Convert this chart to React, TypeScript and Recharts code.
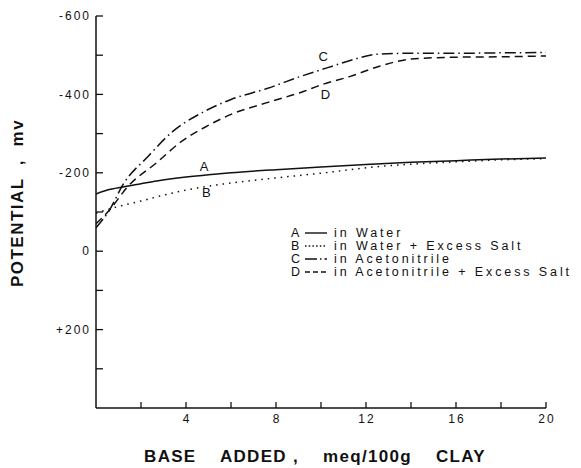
import React from 'react';
import { LineChart, Line, XAxis, YAxis, Legend, ReferenceDot } from 'recharts';

// Base added (meq/100g clay) and potential (mV) for each curve
const xA = [0, 0.5, 1.2, 2, 2.7, 4, 5, 6, 8, 10, 12.2, 14, 16, 18, 20];
const yA = [-146, -156, -164, -172, -179, -189, -195, -200, -208, -215, -222, -227, -231, -235, -238];
const xB = [0, 0.5, 1, 2, 3, 4, 5, 6, 8, 10, 12.2, 14, 16, 18, 20];
const yB = [-97, -106, -114, -128, -143, -156, -166, -174, -187, -199, -214, -222, -228, -233, -236];
const xC = [0, 0.6, 1.2, 2.3, 3.4, 4.8, 6, 7.6, 9.1, 10.5, 11.5, 12.6, 14, 16, 18, 20];
const yC = [-60, -105, -170, -241, -305, -356, -387, -415, -446, -472, -490, -503, -505, -505, -506, -507];
const xD = [0, 0.6, 1.4, 2.7, 3.8, 4.8, 6, 7.6, 9.1, 10.1, 11.3, 12.6, 14, 16, 18, 20];
const yD = [-70, -105, -164, -226, -280, -315, -349, -379, -405, -426, -446, -472, -490, -495, -496, -498];

const xTicks = [0, 2, 4, 6, 8, 10, 12, 14, 16, 18, 20];
const xTickLabels: Record<string, string> = { '4': '4', '8': '8', '12': '12', '16': '16', '20': '20' };
const yTicks = [-600, -500, -400, -300, -200, -100, 0, 100, 200, 300];
const yTickLabels: Record<string, string> = { '-600': '-600', '-400': '-400', '-200': '-200', '0': '0', '200': '+200' };

const curveLetters = ['A', 'B', 'C', 'D'];
const curveNames = ['in Water', 'in Water + Excess Salt', 'in Acetonitrile', 'in Acetonitrile + Excess Salt'];
const curveDashes = ['', '1.5 5', '11 4 1.5 4', '8 5'];
const legendDashes = ['', '1.5 2.2', '12 3 1.5 3', '5 3'];
const labelX = [4.8, 4.9, 10.1, 10.2];
const labelY = [-216, -150, -498, -400];

const INK = '#111';
const FONT = '"Liberation Sans", Arial, Helvetica, sans-serif';

const toPts = (xs: number[], ys: number[]) => xs.map((x, i) => ({ x, y: ys[i] }));
const series = [toPts(xA, yA), toPts(xB, yB), toPts(xC, yC), toPts(xD, yD)];

const YTick = (props: any) => {
  const { x, y, payload } = props;
  const v = payload.value;
  const lab = yTickLabels[String(v)] ?? '';
  return (
    <g>
      {v !== 400 && <line x1={x} x2={x + 7} y1={y} y2={y} stroke={INK} strokeWidth={1.3} />}
      {lab && (
        <text x={x - 5} y={y} dy="0.35em" textAnchor="end" fontSize={12} fill={INK}
          style={{ letterSpacing: '2px', fontFamily: FONT }}>
          {lab}
        </text>
      )}
    </g>
  );
};

const XTick = (props: any) => {
  const { x, y, payload } = props;
  const v = payload.value;
  const lab = xTickLabels[String(v)] ?? '';
  return (
    <g>
      {v !== 0 && <line x1={x} x2={x} y1={y} y2={y - 6} stroke={INK} strokeWidth={1.3} />}
      {lab && (
        <text x={x + 1} y={y + 11} dy="0.35em" textAnchor="middle" fontSize={12} fill={INK}
          style={{ letterSpacing: '2px', fontFamily: FONT }}>
          {lab}
        </text>
      )}
    </g>
  );
};

const LegendBox = () => (
  <div style={{ fontFamily: FONT, fontSize: 12.5, color: INK, overflow: 'visible' }}>
    {curveLetters.map((L, i) => (
      <div key={L} style={{ display: 'flex', alignItems: 'center', height: 13, whiteSpace: 'nowrap' }}>
        <span style={{ display: 'inline-block', width: 14, flexShrink: 0 }}>{L}</span>
        <svg width={22} height={6} style={{ display: 'block', flexShrink: 0 }}>
          <line x1={0} x2={22} y1={3} y2={3} stroke={INK} strokeWidth={1.4}
            strokeDasharray={legendDashes[i] || undefined} />
        </svg>
        <span style={{ marginLeft: 7, letterSpacing: '2.9px', flexShrink: 0 }}>{curveNames[i]}</span>
      </div>
    ))}
  </div>
);

const YTitle = (props: any) => {
  const vb = props.viewBox;
  const cx = vb.x + 9;
  const cy = vb.y + vb.height / 2 - 9;
  return (
    <text x={cx} y={cy} transform={`rotate(-90, ${cx}, ${cy})`} textAnchor="middle" dy="0.35em"
      fontSize={17} fontWeight="bold" fill={INK} style={{ letterSpacing: '1.5px', whiteSpace: 'pre', fontFamily: FONT }}>
      {'POTENTIAL  ,  mv'}
    </text>
  );
};

const XTitle = (props: any) => {
  const vb = props.viewBox;
  const cx = vb.x + vb.width / 2 - 6;
  return (
    <text x={cx} y={vb.y + 54} textAnchor="middle" fontSize={17} fontWeight="bold" fill={INK}
      style={{ letterSpacing: '1.3px', whiteSpace: 'pre', fontFamily: FONT }}>
      {'BASE    ADDED ,    meq/100g    CLAY'}
    </text>
  );
};

export default function App() {
  return (
    <LineChart width={573} height={460} margin={{ top: 8, right: 35, bottom: 30, left: 0 }}>
      <XAxis dataKey="x" type="number" domain={[0, 20]} ticks={xTicks} interval={0}
        allowDataOverflow height={30} tickSize={0} tickMargin={0} tickLine={false}
        axisLine={{ stroke: INK, strokeWidth: 1.5 }} tick={<XTick />} label={<XTitle />} />
      <YAxis type="number" domain={[-600, 400]} reversed ticks={yTicks} interval={0}
        allowDataOverflow width={88} tickSize={0} tickMargin={0} tickLine={false}
        axisLine={{ stroke: INK, strokeWidth: 1.5 }} tick={<YTick />} label={<YTitle />} />
      {series.map((d, i) => (
        <Line key={curveLetters[i]} data={d} dataKey="y" name={curveNames[i]} type="monotone"
          stroke={INK} strokeWidth={1.5} strokeDasharray={curveDashes[i] || undefined}
          dot={false} activeDot={false} isAnimationActive={false} />
      ))}
      {curveLetters.map((L, i) => (
        <ReferenceDot key={'lab' + L} x={labelX[i]} y={labelY[i]} r={0}
          shape={(p: any) => (
            <text x={p.cx} y={p.cy} dy="0.35em" textAnchor="middle" fontSize={13} fill={INK}
              style={{ fontFamily: FONT }}>{L}</text>
          )} />
      ))}
      <Legend layout="vertical" align="center" verticalAlign="middle" content={<LegendBox />}
        wrapperStyle={{ position: 'absolute', left: 283, top: 218, width: 289, height: 56, overflow: 'visible' }} />
    </LineChart>
  );
}
